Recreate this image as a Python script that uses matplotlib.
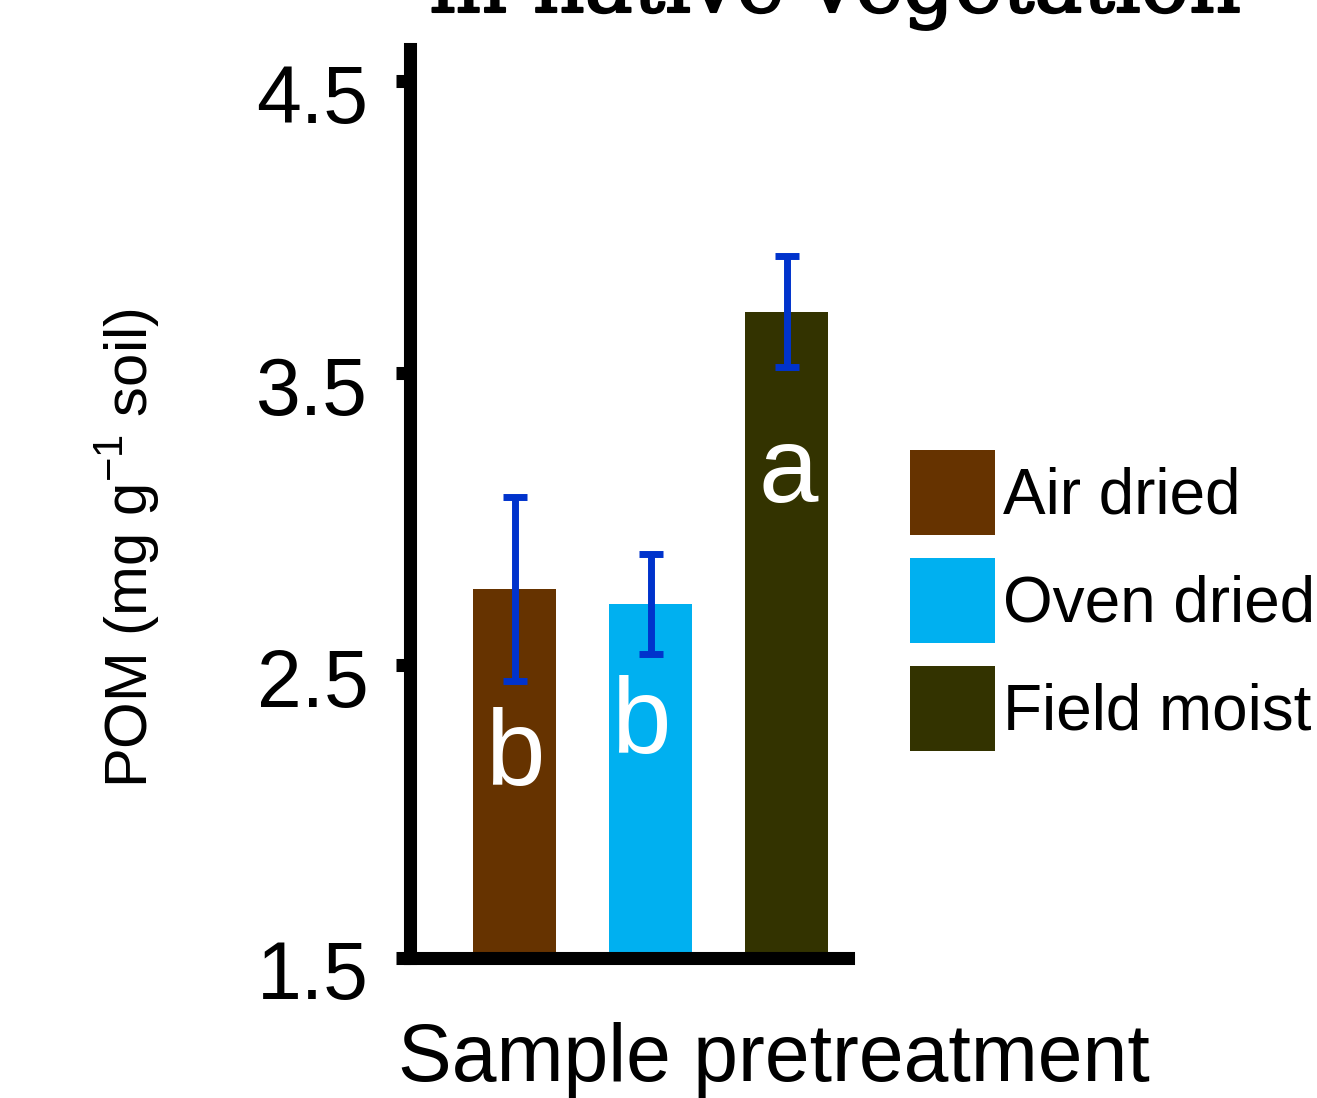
import matplotlib.pyplot as plt
import matplotlib.patheffects as pe
from matplotlib.patches import Patch
from matplotlib.transforms import ScaledTranslation

# Data
treatments = ['Air dried', 'Oven dried', 'Field moist']
pom_mean = [2.76, 2.71, 3.71]
pom_err = [0.315, 0.17, 0.19]
letters = ['b', 'b', 'a']
letter_x = [0.0, 0.93, 2.01]
letter_y = [2.09, 2.2, 3.06]
colors = ['#663300', '#00b0f0', '#333300']
yticks = [1.5, 2.5, 3.5, 4.5]

plt.rcParams['font.family'] = ['Liberation Sans', 'DejaVu Sans']

fig = plt.figure(figsize=(13.17, 10.98), dpi=100)
ax = fig.add_axes([0.3113, 0.1279, 0.3326, 0.8275])

x = list(range(len(treatments)))
ax.bar(x, pom_mean, width=0.61, color=colors, zorder=2)
ax.errorbar(x, pom_mean, yerr=pom_err, fmt='none', ecolor='#0033cc',
            elinewidth=5, capsize=8.6, capthick=5, zorder=3)

for lx, ly, lab in zip(letter_x, letter_y, letters):
    ax.text(lx, ly, lab, color='white', fontsize=77, ha='center', va='baseline', zorder=4)

ax.set_xlim(-0.77, 2.45)
ax.set_ylim(1.5, 4.61)
ax.set_yticks(yticks)
ax.set_yticklabels([f'{t:.1f}' for t in yticks], fontsize=58)
ax.set_xticks([])
ax.tick_params(axis='y', length=10, width=9.4, pad=20)
# labels sit a little below their ticks in the reference
shift = ScaledTranslation(0, -0.12, fig.dpi_scale_trans)
for lbl in ax.get_yticklabels():
    lbl.set_transform(lbl.get_transform() + shift)

for side in ['top', 'right']:
    ax.spines[side].set_visible(False)
for side in ['left', 'bottom']:
    ax.spines[side].set_linewidth(9.4)

ax.set_xlabel('Sample pretreatment', fontsize=58)
ax.xaxis.set_label_coords(0.83, -0.0705)
ax.set_ylabel('POM (mg g$^{\\mathregular{-1}}$ soil)', fontsize=43)
ax.yaxis.set_label_coords(-0.565, 0.451)

handles = [Patch(facecolor=c, edgecolor='none') for c in colors]
fig.legend(handles, treatments, loc='upper left', bbox_to_anchor=(0.691, 0.590),
           frameon=False, fontsize=46, handlelength=1.33, handleheight=1.67,
           handletextpad=0.12, labelspacing=0.36, borderaxespad=0, borderpad=0)

# title is cut off by the top edge in the reference
fig.text(0.634, 1 - 12 / 1098, 'in native vegetation', family='DejaVu Serif',
         fontsize=58, ha='center', va='baseline',
         path_effects=[pe.withStroke(linewidth=1.5, foreground='black')])

fig.savefig('out.png', dpi=100)
